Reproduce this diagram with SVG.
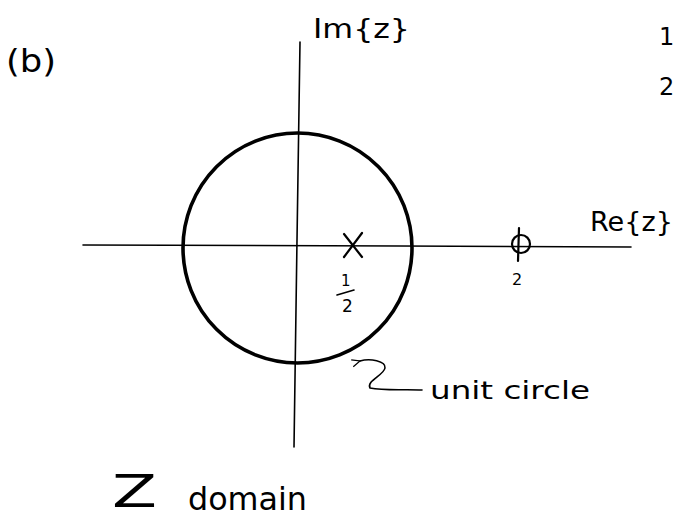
<svg xmlns="http://www.w3.org/2000/svg" width="676" height="519" viewBox="0 0 676 519">
<style>
text { font-family: "DejaVu Sans", "Liberation Sans", sans-serif; fill: #000; }
.ink { stroke: #000; fill: none; stroke-linecap: round; stroke-linejoin: round; }
.axis { stroke-width: 1.6; }
.thick { stroke-width: 3.6; }
.mid { stroke-width: 2.2; }
</style>
<defs>
<marker id="tip" viewBox="0 0 10 10" refX="1" refY="5" markerWidth="9" markerHeight="9" orient="auto-start-reverse" markerUnits="userSpaceOnUse">
<path d="M10,1 L1,5 L10,9" fill="none" stroke="#000" stroke-width="1.4"/>
</marker>
</defs>
<rect width="676" height="519" fill="#fff"/>

<g id="label-b"><text x="6" y="72" font-size="32" textLength="50" lengthAdjust="spacingAndGlyphs">(b)</text></g>
<g id="label-edge"><text x="659" y="45" font-size="24">1</text><text x="659" y="95" font-size="24">2</text></g>

<g id="connectors">
<path id="im-axis" class="ink axis" d="M300,42 L297,240 L294,447"/>
<path id="re-axis" class="ink axis" d="M83,245 L400,246 L631,247"/>
<path id="unit-arrow" class="ink" stroke-width="1.6" marker-start="url(#tip)" d="M360,361 C370,358 386,361 385,368 C384,375 366,381 370,388 C385,391 405,389 422,390"/>
</g>

<g id="unit-circle"><ellipse class="ink thick" cx="297.5" cy="248" rx="114.5" ry="115"/></g>

<g id="label-im"><text x="313" y="38" font-size="26" textLength="97" lengthAdjust="spacingAndGlyphs">Im{z}</text></g>
<g id="label-re"><text x="590" y="231" font-size="26" textLength="83" lengthAdjust="spacingAndGlyphs">Re{z}</text></g>

<g id="pole">
<path class="ink mid" d="M344,234 L362,257 M362,233 L344,257"/>
<text x="341" y="286" font-size="15">1</text>
<path class="ink" stroke-width="1.6" d="M337,295 L354,290"/>
<text x="342" y="312" font-size="17">2</text>
</g>

<g id="zero">
<circle class="ink mid" cx="521" cy="244" r="9"/>
<path class="ink mid" d="M519,228 L518,261"/>
<text x="512" y="285" font-size="16">2</text>
</g>

<g id="label-unit"><text x="430" y="399" font-size="24" textLength="160" lengthAdjust="spacingAndGlyphs">unit circle</text></g>
<g id="label-domain"><text x="112" y="507" font-size="44" textLength="45" lengthAdjust="spacingAndGlyphs">Z</text><text x="188" y="510" font-size="32" textLength="119" lengthAdjust="spacingAndGlyphs">domain</text></g>
</svg>
